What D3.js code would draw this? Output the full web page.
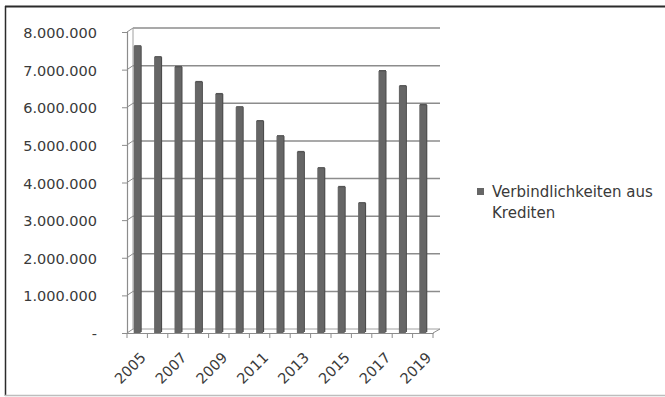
<!DOCTYPE html>
<html>
<head>
<meta charset="utf-8">
<script src="https://cdn.jsdelivr.net/npm/d3@7"></script>
<style>
  body { margin: 0; background: #fff; }
  text { font-family: "DejaVu Sans", sans-serif; fill: #3a3a3a; }
</style>
</head>
<body>
<div id="chart"></div>
<script>
// data
var years = ["2005","2006","2007","2008","2009","2010","2011","2012","2013","2014","2015","2016","2017","2018","2019"];
var values = [7650000, 7360000, 7100000, 6700000, 6380000, 6030000, 5660000, 5260000, 4840000, 4410000, 3910000, 3480000, 6990000, 6590000, 6090000];
var yTicks = [0, 1000000, 2000000, 3000000, 4000000, 5000000, 6000000, 7000000, 8000000];
var seriesName = ["Verbindlichkeiten aus", "Krediten"];

var W = 665, H = 397;
var depth = { dx: 6, dy: -4 };

var svg = d3.select("#chart").append("svg")
  .attr("width", W).attr("height", H);

// frame
svg.append("line").attr("x1", 5).attr("x2", W).attr("y1", 6.5).attr("y2", 6.5)
  .attr("stroke", "#2b2b2b").attr("stroke-width", 2);
svg.append("line").attr("x1", 5.5).attr("x2", 5.5).attr("y1", 6).attr("y2", 396)
  .attr("stroke", "#2b2b2b").attr("stroke-width", 1.5);
svg.append("line").attr("x1", 5).attr("x2", W).attr("y1", 395.5).attr("y2", 395.5)
  .attr("stroke", "#bdbdbd").attr("stroke-width", 1.5);

var x = d3.scaleBand().domain(years).range([127, 433]);
var y = d3.scaleLinear().domain([0, 8000000]).range([333, 32]);

var fmt = function (v) {
  if (v === 0) return "-";
  return d3.format(",")(v).replace(/,/g, ".");
};

// back wall gridlines
svg.append("g").selectAll("line")
  .data(yTicks.slice(1))
  .enter().append("line")
  .attr("x1", 127 + depth.dx).attr("x2", 440)
  .attr("y1", function (d) { return y(d) + depth.dy; })
  .attr("y2", function (d) { return y(d) + depth.dy; })
  .attr("stroke", "#8c8c8c").attr("stroke-width", 1.5);

// connectors from front axis to wall
svg.append("g").selectAll("line")
  .data(yTicks)
  .enter().append("line")
  .attr("x1", 127).attr("x2", 127 + depth.dx)
  .attr("y1", function (d) { return y(d); })
  .attr("y2", function (d) { return y(d) + depth.dy; })
  .attr("stroke", "#8c8c8c").attr("stroke-width", 1);

// back wall left edge + floor
svg.append("line").attr("x1", 133).attr("x2", 133)
  .attr("y1", y(8000000) + depth.dy).attr("y2", y(0) + depth.dy)
  .attr("stroke", "#a0a0a0").attr("stroke-width", 1);
svg.append("line").attr("x1", 133).attr("x2", 440)
  .attr("y1", y(0) + depth.dy).attr("y2", y(0) + depth.dy)
  .attr("stroke", "#a0a0a0").attr("stroke-width", 1);
svg.append("line").attr("x1", 433).attr("x2", 440)
  .attr("y1", y(0)).attr("y2", y(0) + depth.dy)
  .attr("stroke", "#8c8c8c").attr("stroke-width", 1);

// y axis
var yAxis = d3.axisLeft(y).tickValues(yTicks).tickSize(5).tickPadding(25).tickFormat(fmt);
var gy = svg.append("g").attr("transform", "translate(127,0)").call(yAxis);
gy.select(".domain").attr("stroke", "#8c8c8c").attr("stroke-width", 1.2);
gy.selectAll(".tick line").attr("stroke", "#8c8c8c");
gy.selectAll("text").style("font-size", "14.5px").attr("fill", "#3a3a3a").attr("dy", "0.38em");

// bars (simple 3d look)
var bw = 7;
var bars = svg.append("g");
bars.selectAll(".side")
  .data(values)
  .enter().append("rect")
  .attr("x", function (d, i) { return x(years[i]) + x.bandwidth() / 2 - bw / 2 + bw - 1; })
  .attr("y", function (d) { return y(d) + 1; })
  .attr("width", 2)
  .attr("height", function (d) { return y(0) - y(d) - 2; })
  .attr("fill", "#4a4a4a");
bars.selectAll(".front")
  .data(values)
  .enter().append("rect")
  .attr("x", function (d, i) { return x(years[i]) + x.bandwidth() / 2 - bw / 2; })
  .attr("y", function (d) { return y(d) + 1; })
  .attr("width", bw)
  .attr("height", function (d) { return y(0) - y(d) - 1; })
  .attr("fill", "#666666");
bars.selectAll(".cap")
  .data(values)
  .enter().append("rect")
  .attr("x", function (d, i) { return x(years[i]) + x.bandwidth() / 2 - bw / 2 + 0.5; })
  .attr("y", function (d) { return y(d); })
  .attr("width", bw)
  .attr("height", 1.5)
  .attr("fill", "#555555");

// floor front edge with ticks
var xAxis = d3.axisBottom(x).tickSize(0).tickFormat("");
var gx = svg.append("g").attr("transform", "translate(0," + y(0) + ")").call(xAxis);
gx.select(".domain").attr("stroke", "#8c8c8c").attr("stroke-width", 1.2);
svg.append("g").selectAll("line")
  .data(d3.range(years.length + 1))
  .enter().append("line")
  .attr("x1", function (i) { return 127 + i * x.step(); })
  .attr("x2", function (i) { return 127 + i * x.step(); })
  .attr("y1", y(0)).attr("y2", y(0) + 5)
  .attr("stroke", "#8c8c8c");

// year labels, every other one
svg.append("g").selectAll("text")
  .data(years.filter(function (d, i) { return i % 2 === 0; }))
  .enter().append("text")
  .attr("transform", function (d) {
    return "translate(" + (x(d) + x.bandwidth() / 2 + 6) + "," + (y(0) + 22) + ") rotate(-45)";
  })
  .attr("text-anchor", "end")
  .attr("dy", "0.35em")
  .style("font-size", "14.5px")
  .text(function (d) { return d; });

// legend
svg.append("rect").attr("x", 477).attr("y", 188).attr("width", 7).attr("height", 7)
  .attr("fill", "#666666");
svg.append("g").selectAll("text")
  .data(seriesName)
  .enter().append("text")
  .attr("x", 492)
  .attr("y", function (d, i) { return 197 + i * 21; })
  .style("font-size", "15px")
  .text(function (d) { return d; });
</script>
</body>
</html>
